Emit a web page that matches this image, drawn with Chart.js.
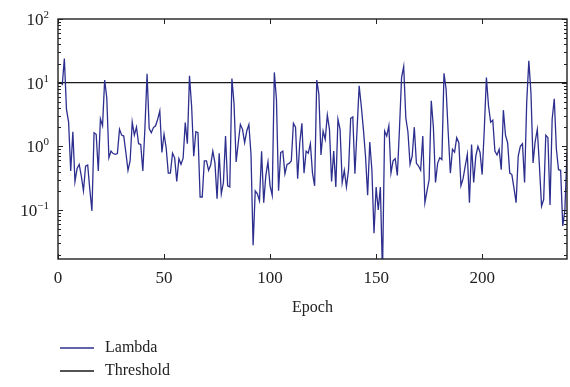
<!DOCTYPE html>
<html>
<head>
<meta charset="utf-8">
<script src="https://cdn.jsdelivr.net/npm/chart.js@4.4.0/dist/chart.umd.min.js"></script>
<style>
  html, body { margin: 0; padding: 0; background: #fff; }
  #wrap { width: 570px; height: 387px; position: relative; }
</style>
</head>
<body>
<div id="wrap"><canvas id="chart"></canvas></div>
<script>
// ─── Data ────────────────────────────────────────────────
const firstEpoch = 2;
const lambdaValues = [
  9.1, 24, 3.8, 2.4, 0.41, 1.7, 0.28, 0.45, 0.52, 0.34,
  0.2, 0.49, 0.51, 0.21, 0.097, 1.64, 1.55, 0.41, 2.7, 2.1,
  11, 5.8, 0.66, 0.84, 0.77, 0.75, 0.77, 1.85, 1.5, 1.45,
  0.8, 0.42, 0.59, 2.4, 1.5, 2.0, 1.1, 1.07, 0.41, 2.0,
  13.8, 1.9, 1.64, 1.97, 2.1, 2.66, 3.6, 0.8, 1.55, 0.95,
  0.38, 0.38, 0.78, 0.66, 0.28, 0.64, 0.52, 0.65, 2.36, 1.1,
  12.8, 4.3, 0.7, 1.7, 1.64, 0.16, 0.16, 0.59, 0.59, 0.42,
  0.51, 0.84, 0.55, 0.15, 0.78, 0.18, 0.27, 1.45, 0.24, 0.23,
  11.6, 4.7, 0.57, 1.14, 2.2, 1.85, 1.14, 1.74, 2.2, 0.75,
  0.028, 0.2, 0.18, 0.14, 0.84, 0.13, 0.35, 0.57, 0.24, 0.17,
  14.5, 5.5, 0.2, 0.8, 0.84, 0.37, 0.52, 0.54, 0.59, 2.3,
  2.0, 0.31, 1.14, 2.3, 0.38, 0.84, 0.78, 1.1, 0.38, 0.24,
  11, 6.6, 0.73, 1.74, 1.29, 3.1, 1.85, 0.28, 0.84, 0.23,
  2.66, 1.85, 0.27, 0.42, 0.23, 0.43, 2.76, 2.9, 0.37, 1.8,
  8.9, 4.3, 1.85, 0.7, 0.17, 1.17, 0.43, 0.043, 0.23, 0.1,
  0.23, 0.01, 1.74, 1.45, 2.1, 0.38, 0.59, 0.64, 0.35, 1.85,
  12, 18, 2.8, 1.68, 0.52, 0.7, 2.0, 0.54, 0.49, 0.42,
  1.45, 0.13, 0.2, 0.3, 5.2, 2.0, 0.27, 0.54, 0.66, 0.62,
  14, 7.9, 1.64, 0.38, 0.9, 0.81, 1.37, 1.14, 0.24, 0.31,
  0.49, 0.75, 0.13, 1.07, 0.27, 0.7, 1.0, 0.8, 0.36, 1.85,
  12, 4.3, 2.4, 2.57, 0.84, 0.73, 0.9, 0.43, 3.7, 1.5,
  1.14, 0.38, 0.36, 0.22, 0.13, 0.7, 1.0, 1.1, 0.27, 4.9,
  22, 7.0, 0.55, 1.2, 1.85, 0.49, 0.115, 0.146, 1.5, 1.37,
  0.12, 2.66, 5.6, 0.9, 0.43, 0.42, 0.056, 0.1, 0.8
];
const thresholdValue = 10;
const xRange = [0, 240];
const yRange = [0.017, 100];
const xTicks = [0, 50, 100, 150, 200];
const yTickValues = [0.1, 1, 10, 100];
const yTickExponents = ['\u22121', '0', '1', '2'];
const seriesLabels = ['Lambda', 'Threshold'];
const seriesColors = ['#2d2f8f', '#1a1a1a'];

const FONT = '"Liberation Serif", "Times New Roman", serif';

// ─── Frame, inward ticks, y labels and legend ────────────
const framePlugin = {
  id: 'frame',
  afterDraw(chart) {
    const { ctx, chartArea: a, scales: { x, y } } = chart;
    ctx.save();
    ctx.strokeStyle = '#222';
    ctx.lineWidth = 1.4;
    ctx.strokeRect(a.left, a.top, a.right - a.left, a.bottom - a.top);

    // log minor / major ticks, both sides
    ctx.lineWidth = 1;
    for (let e = -2; e <= 2; e++) {
      for (let k = 1; k <= 9; k++) {
        const v = k * Math.pow(10, e);
        if (v < yRange[0] || v > yRange[1]) continue;
        const py = Math.round(y.getPixelForValue(v)) + 0.5;
        const len = k === 1 ? 5 : 3;
        ctx.beginPath();
        ctx.moveTo(a.left, py); ctx.lineTo(a.left + len, py);
        ctx.moveTo(a.right, py); ctx.lineTo(a.right - len, py);
        ctx.stroke();
      }
    }
    xTicks.forEach(v => {
      const px = Math.round(x.getPixelForValue(v)) + 0.5;
      ctx.beginPath();
      ctx.moveTo(px, a.bottom); ctx.lineTo(px, a.bottom - 5);
      ctx.moveTo(px, a.top); ctx.lineTo(px, a.top + 5);
      ctx.stroke();
    });

    // y tick labels with superscripts
    ctx.fillStyle = '#222';
    ctx.textBaseline = 'alphabetic';
    yTickValues.forEach((v, i) => {
      const py = y.getPixelForValue(v);
      ctx.font = '11px ' + FONT;
      const expW = ctx.measureText(yTickExponents[i]).width;
      const right = a.left - 9;
      ctx.textAlign = 'left';
      ctx.fillText(yTickExponents[i], right - expW, py - 1);
      ctx.font = '17px ' + FONT;
      ctx.textAlign = 'right';
      ctx.fillText('10', right - expW, py + 6);
    });

    // legend, stacked
    const items = chart.data.datasets;
    items.forEach((ds, i) => {
      const ly = 348 + i * 23;
      ctx.strokeStyle = ds.borderColor;
      ctx.lineWidth = 1.3;
      ctx.beginPath();
      ctx.moveTo(60, ly); ctx.lineTo(94, ly);
      ctx.stroke();
      ctx.fillStyle = '#222';
      ctx.font = '16px ' + FONT;
      ctx.textAlign = 'left';
      ctx.textBaseline = 'middle';
      ctx.fillText(ds.label, 105, ly);
    });
    ctx.restore();
  }
};

const lambdaPoints = lambdaValues.map((v, i) => ({ x: firstEpoch + i, y: v }));
const thresholdPoints = xRange.map(xv => ({ x: xv, y: thresholdValue }));

new Chart(document.getElementById('chart'), {
  type: 'line',
  data: {
    datasets: [
      {
        label: seriesLabels[0],
        data: lambdaPoints,
        borderColor: seriesColors[0],
        borderWidth: 1.3,
        pointRadius: 0,
        tension: 0,
      },
      {
        label: seriesLabels[1],
        data: thresholdPoints,
        borderColor: seriesColors[1],
        borderWidth: 1.3,
        pointRadius: 0,
      }
    ]
  },
  options: {
    responsive: true,
    maintainAspectRatio: false,
    animation: false,
    layout: { padding: { top: 19, right: 3, bottom: 70, left: 0 } },
    plugins: { legend: { display: false }, tooltip: { enabled: false } },
    scales: {
      x: {
        type: 'linear',
        min: xRange[0],
        max: xRange[1],
        grid: { display: false, drawTicks: false },
        border: { display: false },
        afterBuildTicks: s => { s.ticks = xTicks.map(v => ({ value: v })); },
        afterFit: s => { s.height = 58; },
        ticks: { color: '#222', padding: 9, font: { family: FONT, size: 17 } },
        title: {
          display: true,
          text: 'Epoch',
          color: '#222',
          padding: 0,
          font: { family: FONT, size: 16 }
        }
      },
      y: {
        type: 'logarithmic',
        min: yRange[0],
        max: yRange[1],
        grid: { display: false, drawTicks: false },
        border: { display: false },
        ticks: { display: false },
        afterFit: s => { s.width = 58; }
      }
    }
  },
  plugins: [framePlugin]
});
</script>
</body>
</html>
